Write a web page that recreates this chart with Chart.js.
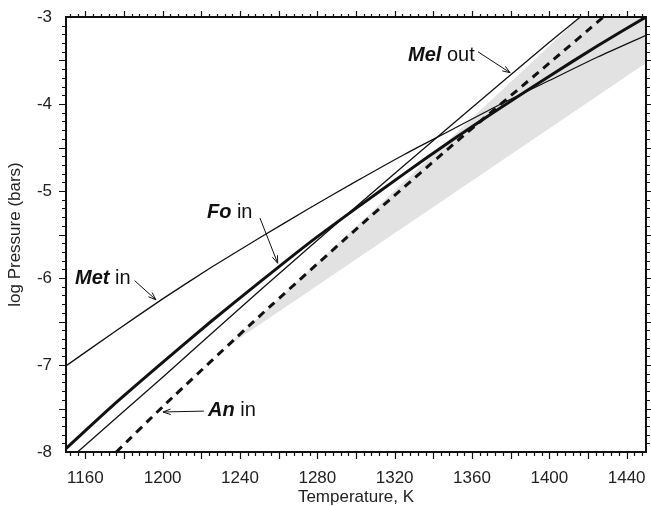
<!DOCTYPE html>
<html>
<head>
<meta charset="utf-8">
<script src="https://cdn.jsdelivr.net/npm/chart.js@4.4.1/dist/chart.umd.min.js"></script>
<style>
  html, body { margin: 0; padding: 0; background: #fff; }
</style>
</head>
<body>
<canvas id="chart" width="651" height="506"></canvas>
<script>
// === Data ===
// Fo in (thick solid)
const foT = [1150, 1175, 1200, 1225, 1250, 1275, 1300, 1325, 1350, 1375, 1400, 1425, 1450];
const foP = [-7.96, -7.45, -6.97, -6.50, -6.05, -5.61, -5.20, -4.80, -4.41, -4.04, -3.68, -3.33, -3.00];

// Met in (thin solid)
const metT = [1150, 1175, 1200, 1225, 1250, 1275, 1300, 1325, 1350, 1375, 1400, 1425, 1450];
const metP = [-7.01, -6.62, -6.24, -5.88, -5.54, -5.21, -4.89, -4.58, -4.29, -4.00, -3.73, -3.46, -3.21];

// Mel out (thin solid, steep)
const melT = [1156, 1200, 1250, 1300, 1350, 1400, 1416];
const melP = [-8.00, -7.14, -6.15, -5.18, -4.23, -3.29, -3.00];

// An in (thick dashed)
const anT = [1176, 1200, 1250, 1300, 1350, 1400, 1428];
const anP = [-8.00, -7.48, -6.44, -5.44, -4.47, -3.53, -3.00];

// shaded field (closed outline)
const shadeT = [1234, 1416, 1450, 1450, 1234];
const shadeP = [-6.78, -3.00, -3.00, -3.53, -6.78];

// axis tick labels
const xTicks = [1160, 1200, 1240, 1280, 1320, 1360, 1400, 1440];
const yTicks = [-8, -7, -6, -5, -4, -3];

// labels with arrows (data coordinates)
const notes = [
  { bold: "Met", rest: " in", at: [1154.7, -6.0], from: [1185.5, -6.03], to: [1196.5, -6.25] },
  { bold: "Fo", rest: " in", at: [1222.9, -5.25], from: [1250.3, -5.31], to: [1259.5, -5.83] },
  { bold: "An", rest: " in", at: [1223.5, -7.52], from: [1221.3, -7.53], to: [1200.2, -7.54] },
  { bold: "Mel", rest: " out", at: [1326.9, -3.44], from: [1363.1, -3.40], to: [1379.7, -3.64] },
];

const FONT = "'Liberation Sans', Arial, Helvetica, sans-serif";
const INK = "#111";

const pts = (xs, ys) => xs.map((x, i) => ({ x, y: ys[i] }));

// === Tick marks, frame and labels ===
const decorations = {
  id: "decorations",
  afterDraw(chart) {
    const { ctx, chartArea: a, scales: { x, y } } = chart;
    ctx.save();

    // minor / major ticks, all pointing outward
    ctx.strokeStyle = INK;
    ctx.lineWidth = 1.2;
    ctx.beginPath();
    for (let v = 1152; v <= 1448; v += 4) {
      const px = Math.round(x.getPixelForValue(v)) + 0.5;
      const big = v % 20 === 0;
      ctx.moveTo(px, a.bottom); ctx.lineTo(px, a.bottom + (big ? 7 : 4));
      ctx.moveTo(px, a.top); ctx.lineTo(px, a.top - (big ? 6 : 3));
    }
    for (let i = -79; i <= -31; i++) {
      const py = Math.round(y.getPixelForValue(i / 10)) + 0.5;
      const big = i % 5 === 0;
      ctx.moveTo(a.left, py); ctx.lineTo(a.left - (big ? 7 : 4), py);
      ctx.moveTo(a.right, py); ctx.lineTo(a.right + (big ? 7 : 4), py);
    }
    ctx.stroke();

    // frame
    ctx.lineWidth = 2;
    ctx.strokeRect(a.left, a.top, a.right - a.left, a.bottom - a.top);

    // annotations
    ctx.fillStyle = "#111";
    ctx.textBaseline = "middle";
    notes.forEach(n => {
      const tx = x.getPixelForValue(n.at[0]);
      const ty = y.getPixelForValue(n.at[1]);
      ctx.font = `italic bold 20px ${FONT}`;
      ctx.fillText(n.bold, tx, ty);
      const w = ctx.measureText(n.bold).width;
      ctx.font = `20px ${FONT}`;
      ctx.fillText(n.rest, tx + w, ty);

      const x0 = x.getPixelForValue(n.from[0]), y0 = y.getPixelForValue(n.from[1]);
      const x1 = x.getPixelForValue(n.to[0]), y1 = y.getPixelForValue(n.to[1]);
      const ang = Math.atan2(y1 - y0, x1 - x0);
      ctx.lineWidth = 1;
      ctx.beginPath();
      ctx.moveTo(x0, y0); ctx.lineTo(x1, y1);
      ctx.moveTo(x1 - 8 * Math.cos(ang - 0.35), y1 - 8 * Math.sin(ang - 0.35));
      ctx.lineTo(x1, y1);
      ctx.lineTo(x1 - 8 * Math.cos(ang + 0.35), y1 - 8 * Math.sin(ang + 0.35));
      ctx.stroke();
    });
    ctx.restore();
  }
};

const lineStyle = { showLine: true, pointRadius: 0, fill: false, borderColor: INK, tension: 0.2 };

new Chart(document.getElementById("chart"), {
  type: "scatter",
  data: {
    datasets: [
      { ...lineStyle, data: pts(shadeT, shadeP), borderWidth: 0, borderColor: "rgba(0,0,0,0)",
        backgroundColor: "#e2e2e2", fill: "shape", tension: 0, order: 9 },
      { ...lineStyle, data: pts(anT, anP), borderWidth: 3, borderDash: [8, 6], order: 2 },
      { ...lineStyle, data: pts(metT, metP), borderWidth: 1.3, order: 1 },
      { ...lineStyle, data: pts(melT, melP), borderWidth: 1.3, order: 1 },
      { ...lineStyle, data: pts(foT, foP), borderWidth: 3, order: 0 },
    ]
  },
  options: {
    responsive: false,
    devicePixelRatio: 1,
    animation: false,
    layout: { padding: { left: 0, right: 5, top: 17, bottom: 0 } },
    plugins: { legend: { display: false }, tooltip: { enabled: false } },
    scales: {
      x: {
        type: "linear", min: 1150, max: 1450,
        afterBuildTicks: s => { s.ticks = xTicks.map(v => ({ value: v })); },
        afterFit: s => { s.height = 54; s.paddingLeft = 0; s.paddingRight = 0; },
        ticks: { font: { family: FONT, size: 17 }, color: "#222", padding: 16, maxRotation: 0,
                 autoSkip: false, callback: v => String(v) },
        grid: { drawOnChartArea: false, drawTicks: false },
        border: { display: false },
        title: { display: true, text: "Temperature, K", color: "#222",
                 font: { family: FONT, size: 17 }, padding: { top: 0, bottom: -2 } }
      },
      y: {
        type: "linear", min: -8, max: -3,
        afterBuildTicks: s => { s.ticks = yTicks.map(v => ({ value: v })); },
        afterFit: s => { s.width = 66; s.paddingTop = 0; s.paddingBottom = 0; },
        ticks: { font: { family: FONT, size: 17 }, color: "#222", padding: 14, callback: v => String(v) },
        grid: { drawOnChartArea: false, drawTicks: false },
        border: { display: false },
        title: { display: true, text: "log Pressure (bars)", color: "#222",
                 font: { family: FONT, size: 17 }, padding: { top: 5, bottom: 0 } }
      }
    }
  },
  plugins: [decorations]
});
</script>
</body>
</html>
